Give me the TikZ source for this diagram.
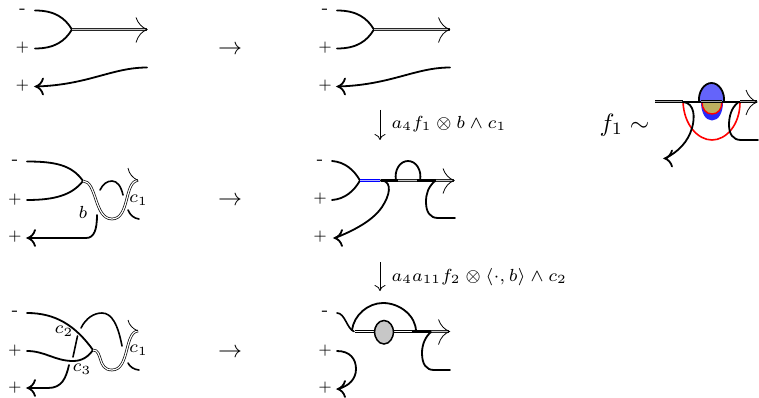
\documentclass[tikz,border=0pt]{standalone}
\definecolor{gblob}{gray}{0.78}
\definecolor{oliv}{RGB}{190,175,95}
\definecolor{bluefill}{RGB}{100,100,250}
\definecolor{bluelow}{RGB}{40,40,250}
\usetikzlibrary{arrows.meta}
\tikzset{
  strand/.style={line width=1.8pt,line cap=round},
  hstrand/.style={line width=2.2pt,line cap=round},
  tipline/.style={line width=.8pt},
  dbl/.style={line width=.7pt,double=white,double distance=1.2pt,draw=black},
  dblgray/.style={line width=.7pt,double=black!22,double distance=1.3pt,draw=black!85},
  dbldark/.style={line width=.8pt,double=black!35,double distance=1.2pt,draw=black},
  sign/.style={inner sep=0pt,scale=2.2,font=\scriptsize},
  minus/.style={inner sep=0pt,scale=2.5,font=\scriptsize},
  lab/.style={inner sep=0pt,scale=2.5,font=\scriptsize},
  bigarrow/.style={inner sep=0pt,scale=2.4},
  downarr/.style={line width=.8pt,-{To[length=6pt,width=11pt]}}
}
% thick arrow head pointing left at (#1,#2)
\newcommand{\headL}[2]{\draw[strand] (#1+7,#2-8) .. controls (#1+6,#2-4) and (#1+3,#2-1) .. (#1,#2) .. controls (#1+3,#2+1) and (#1+6,#2+4) .. (#1+7,#2+8);}
% thin tail arrow head pointing right at (#1,#2)
\newcommand{\tailR}[2]{\draw[tipline] (#1-11,#2-12) .. controls (#1-9,#2-6) and (#1-5,#2-2) .. (#1,#2) .. controls (#1-5,#2+2) and (#1-9,#2+6) .. (#1-11,#2+13);}
\begin{document}
\begin{tikzpicture}[x=1pt,y=-1pt]
\useasboundingbox (0,0) rectangle (759,398);
% ---- row 1 left
\draw[strand] (35,10.5) .. controls (55,10.5) and (65,18) .. (72,29.5) .. controls (65,41) and (55,48.5) .. (35,48.5);
\draw[dblgray] (72,29.5) -- (147,29.5);
\tailR{147}{29.5}
\draw[strand] (147,67.5) .. controls (112,67.5) and (88,85) .. (36,86.5);
\headL{36}{86.5}
\node[minus] (a1) at (22.5,11) {-};
\node[sign] (a2) at (22.5,48) {+};
\node[sign] (a3) at (22.5,86) {+};
% ---- row 1 right
\draw[strand] (337,10.5) .. controls (357,10.5) and (367,18) .. (374,29.5) .. controls (367,41) and (357,48.5) .. (337,48.5);
\draw[dblgray] (374,29.5) -- (449.5,29.5);
\tailR{449.5}{29.5}
\draw[strand] (450,67.5) .. controls (415,67.5) and (391,85) .. (338,86.5);
\headL{338}{86.5}
\node[minus] (b1) at (325,11) {-};
\node[sign] (b2) at (325,48) {+};
\node[sign] (b3) at (325,86) {+};
% ---- row 2 left
\draw[strand] (27,161.5) .. controls (55,161.5) and (72,165) .. (83,181) .. controls (72,195) and (55,200) .. (27,200);
\draw[dbl] (83,181) .. controls (97,181) and (94,219) .. (112,219) .. controls (130,219) and (124,181) .. (138,180.5);
\draw[strand,line width=1.6pt] (100,190) .. controls (103,184) and (107,181) .. (112,181) .. controls (117,181) and (121,186) .. (123,195);
\draw[tipline] (128,168) .. controls (129,174) and (133,178) .. (138,180.5);
\draw[strand,line width=1.6pt] (128,210) .. controls (130,215) and (134,218.5) .. (139,219);
\draw[strand] (97,215) .. controls (97,230) and (94,238) .. (86,238) -- (28,238);
\headL{28}{238}
\node[minus] (c1) at (15,162) {-};
\node[sign] (c2) at (15,200) {+};
\node[sign] (c3) at (15,237) {+};
\node[lab] (c4) at (83,212) {$b$};
\node[lab] (c5) at (138.5,200) {$c_1$};
% ---- row 2 right
\draw[strand] (332,161) .. controls (345,162) and (354,170) .. (360,180.5) .. controls (354,191) and (345,199) .. (332,200);
\draw[hstrand] (381,180.5) -- (436,180.5);
\draw[line width=1pt,draw=blue,double=blue!30!white,double distance=.9pt] (360,180.5) -- (380,180.5);
\draw[dblgray] (398,180.5) -- (417,180.5);
\draw[dblgray] (436,180.5) -- (454,180.5);
\tailR{454}{180.5}
\draw[strand] (396,180.5) .. controls (394,170) and (400,161) .. (408,161) .. controls (416,161) and (422,170) .. (420,180.5);
\draw[strand] (383,180.5) .. controls (392,183) and (390,195) .. (382,207) .. controls (372,222) and (350,232) .. (335,238);
\headL{335}{238}
\draw[strand] (435,181) .. controls (428,187) and (426,194) .. (426,202) .. controls (426,212) and (430,218) .. (438,218) -- (455,218);
\node[minus] (d1) at (320,162) {-};
\node[sign] (d2) at (320,199) {+};
\node[sign] (d3) at (320,237) {+};
% ---- row 3 left
\draw[strand] (27,313) .. controls (55,313) and (75,325) .. (93,350);
\draw[strand] (27,351) .. controls (45,351) and (55,361) .. (73,361) .. controls (82,361) and (88,357) .. (93,350);
\draw[dbl] (93,350) .. controls (103,350) and (97,370) .. (112,370) .. controls (130,370) and (124,332) .. (138,331);
\draw[strand,line width=1.6pt] (81,328) .. controls (86,318) and (94,313) .. (102,313) .. controls (112,313) and (118,325) .. (122,346);
\draw[strand,line width=1.6pt] (77.5,336) -- (73,357);
\draw[strand] (69,365) .. controls (66,378) and (62,388) .. (48,388) -- (28,388);
\headL{28}{388}
\draw[tipline] (128,320) .. controls (129,325) and (133,329) .. (138,331);
\draw[strand,line width=1.6pt] (128,363) .. controls (130,367) and (134,369.5) .. (139,370);
\node[minus] (e1) at (15,313) {-};
\node[sign] (e2) at (15,351) {+};
\node[sign] (e3) at (15,388) {+};
\node[lab] (e4) at (64,331) {$c_2$};
\node[lab] (e5) at (82,369) {$c_3$};
\node[lab] (e6) at (138.5,350) {$c_1$};
% ---- row 3 right
\draw[strand,line width=1.6pt] (337,313) .. controls (345,313) and (347,329) .. (354,331.5);
\draw[strand] (352,330) .. controls (354,315) and (368,303) .. (383,303) .. controls (400,303) and (416,316) .. (416,331.5);
\draw[dbl] (355,331.5) -- (413,331.5);
\draw[hstrand] (413,331.5) -- (432,331.5);
\draw[dblgray] (431,331.5) -- (449,331.5);
\tailR{449.5}{331.5}
\draw[strand,fill=gblob,line width=1.5pt] (384,320.5) .. controls (390,320.5) and (393.5,327) .. (393.5,332) .. controls (393.5,337) and (390,344) .. (384,344) .. controls (378,344) and (374.5,337) .. (374.5,332) .. controls (374.5,327) and (378,320.5) .. (384,320.5) -- cycle;
\draw[strand] (431,332) .. controls (425,337) and (422,345) .. (422,353) .. controls (422,364) and (426,370) .. (434,370) -- (450,370);
\draw[strand] (337,351) .. controls (350,351) and (356,359) .. (356,369) .. controls (356,379) and (349,386) .. (338,389);
\headL{338}{389}
\node[minus] (f1) at (325,313) {-};
\node[sign] (f2) at (325,351) {+};
\node[sign] (f3) at (325,388) {+};
% ---- transition arrows
\node[bigarrow] (g1) at (230,50) {$\rightarrow$};
\node[bigarrow] (g2) at (230,201) {$\rightarrow$};
\node[bigarrow] (g3) at (230,353) {$\rightarrow$};
\coordinate (h1) at (380,110);
\coordinate (h2) at (380,140);
\coordinate (h3) at (380,262);
\coordinate (h4) at (380,291);
\draw[downarr] (h1) -- (h2);
\draw[downarr] (h3) -- (h4);
\node[lab,anchor=west] (h5) at (391,124) {$a_4 f_1 \otimes b \wedge c_1$};
\node[lab,anchor=west] (h6) at (391,277) {$a_4 a_{11} f_2 \otimes \langle \cdot, b\rangle \wedge c_2$};
% ---- inset
\node[inner sep=0pt,scale=2.5,anchor=west] (i1) at (599,125) {$f_1\sim$};
\fill[bluelow] (701,102) .. controls (701,112) and (705,120.5) .. (712,120.5) .. controls (719,120.5) and (723,112) .. (723,102) -- cycle;
\draw[red,line width=1.4pt,fill=oliv] (702,102) .. controls (702,109) and (706,114) .. (712,114) .. controls (718,114) and (722,109) .. (722,102);
\fill[bluefill] (699,102) .. controls (698,92) and (704,83) .. (711.5,83) .. controls (719,83) and (725,92) .. (724,102) -- cycle;
\draw[red,line width=1.6pt] (683,102) .. controls (684,125) and (698,140) .. (712,140) .. controls (726,140) and (740,125) .. (740,102);
\draw[dbldark] (655,101.8) -- (683,101.8);
\draw[hstrand] (683,102) -- (740,102);
\draw[dbldark] (701,101.8) -- (722,101.8);
\draw[dbldark] (740,101.8) -- (757,101.8);
\draw[strand] (699,102) .. controls (698,92) and (704,83) .. (711.5,83) .. controls (719,83) and (725,92) .. (724,102);
\tailR{757}{102}
\draw[strand] (683,102) .. controls (695,103) and (695,118) .. (692,128) .. controls (688,142) and (678,152) .. (665,158.5);
\headL{665}{158.5}
\draw[strand] (738,102.5) .. controls (731,108) and (729,117) .. (729,125) .. controls (729,134) and (733,140) .. (741,140) -- (758,140);
\end{tikzpicture}
\end{document}
